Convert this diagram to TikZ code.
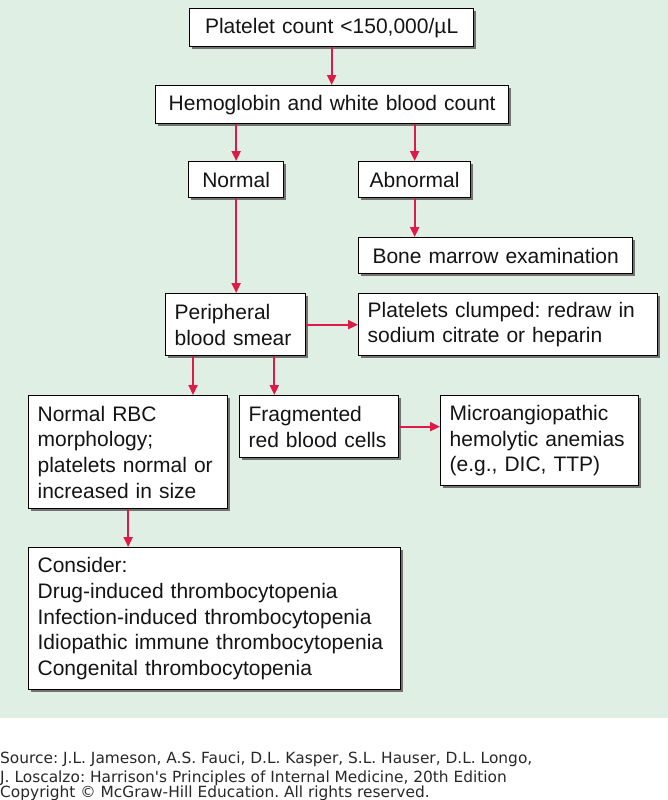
\documentclass[tikz,border=0pt]{standalone}
\usepackage{fontspec}
\setmainfont{Liberation Sans}
\newfontfamily\sourcefont{DejaVu Sans}
\usetikzlibrary{arrows.meta,shadows}
\frenchspacing

\definecolor{panelgreen}{RGB}{224,239,228}
\definecolor{arrowred}{RGB}{222,26,72}
\definecolor{sourcegray}{RGB}{40,40,40}

\tikzset{
  stepbox/.style={draw=black, line width=1.3pt, fill=white, anchor=north west,
    inner xsep=9pt, inner ysep=0pt, align=left, text=black!92,
    font=\fontsize{21}{25.7}\selectfont,
    drop shadow={shadow xshift=2.5pt, shadow yshift=-2.5pt, fill=black!55, opacity=1}},
  flowarrow/.style={draw=arrowred, line width=2pt, -{Triangle[length=10pt,width=9pt]}},
  sourceline/.style={anchor=base west, inner sep=0pt, text=sourcegray,
    font=\sourcefont\fontsize{15.4}{19}\selectfont},
}

\begin{document}
\begin{tikzpicture}[x=1pt,y=-1pt]
  \useasboundingbox (0,0) rectangle (668,800);

  % Drawing the green panel
  \fill [panelgreen] (0,0) rectangle (668,718);

  % Marking the boxes
  \node [stepbox, align=center, text width=266pt, minimum height=38pt] (count) at (189,8) {Platelet count <150,000/µL};
  \node [stepbox, align=center, text width=335pt, minimum height=38pt] (hgb) at (155,85) {Hemoglobin and white blood count};
  \node [stepbox, align=center, text width=77pt, minimum height=36pt] (normal) at (188,161) {Normal};
  \node [stepbox, align=center, text width=94pt, minimum height=36pt] (abnormal) at (358,161) {Abnormal};
  \node [stepbox, align=center, text width=256pt, minimum height=36pt] (marrow) at (358,237) {Bone marrow examination};
  \node [stepbox, text width=122pt, minimum height=62pt] (smear) at (165,293) {Peripheral\\blood smear};
  \node [stepbox, text width=281pt, minimum height=62pt] (clumped) at (358,293) {Platelets clumped: redraw in\\sodium citrate or heparin};
  \node [stepbox, text width=181pt, minimum height=113pt] (normrbc) at (28,395) {Normal RBC\\morphology;\\platelets normal or\\increased in size};
  \node [stepbox, text width=141pt, minimum height=62pt] (frag) at (239,395) {Fragmented\\red blood cells};
  \node [stepbox, text width=180pt, minimum height=90pt] (micro) at (440,395) {Microangiopathic\\hemolytic anemias\\(e.g., DIC, TTP)};
  \node [stepbox, text width=354pt, minimum height=142pt] (consider) at (28,547) {Consider:\\Drug-induced thrombocytopenia\\Infection-induced thrombocytopenia\\Idiopathic immune thrombocytopenia\\Congenital thrombocytopenia};

  % Drawing the arrows
  \draw [flowarrow] (count.south) -- (count.south |- hgb.north);
  \draw [flowarrow] (normal.north |- hgb.south) -- (normal.north);
  \draw [flowarrow] (abnormal.north |- hgb.south) -- (abnormal.north);
  \draw [flowarrow] (abnormal.south) -- (abnormal.south |- marrow.north);
  \draw [flowarrow] (normal.south) -- (normal.south |- smear.north);
  \draw [flowarrow] (smear.east) -- (smear.east -| clumped.west);
  \draw [flowarrow] ([xshift=28pt]smear.south west) -- ([xshift=28pt]smear.south west |- normrbc.north);
  \draw [flowarrow] ([xshift=-32pt]smear.south east) -- ([xshift=-32pt]smear.south east |- frag.north);
  \draw [flowarrow] (frag.east) -- (frag.east -| micro.west);
  \draw [flowarrow] (normrbc.south) -- (normrbc.south |- consider.north);

  % Marking the source lines
  \node [sourceline] (source) at (0,763) {Source: J.L. Jameson, A.S. Fauci, D.L. Kasper, S.L. Hauser, D.L. Longo,};
  \node [sourceline] (book) at (0,782) {J. Loscalzo: Harrison's Principles of Internal Medicine, 20th Edition};
  \node [sourceline] (rights) at (0,797) {Copyright © McGraw-Hill Education. All rights reserved.};
\end{tikzpicture}
\end{document}
